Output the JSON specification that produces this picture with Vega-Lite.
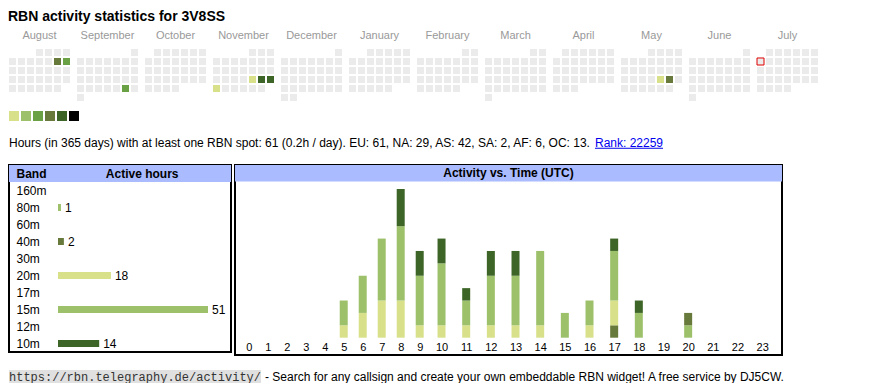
{
  "$schema": "https://vega.github.io/schema/vega-lite/v6.json",
  "background": "white",
  "padding": {"left": 8, "top": 10, "right": 0, "bottom": 0},
  "config": {"font": "Liberation Sans", "view": {"stroke": null}},
  "title": {"text": "RBN activity statistics for 3V8SS", "anchor": "start", "fontSize": 14, "fontWeight": "bold", "color": "#000", "offset": 6},
  "datasets": {
    "days": [
      {"d":"2024-08-01","h":0},{"d":"2024-08-02","h":0},{"d":"2024-08-03","h":0},{"d":"2024-08-04","h":0},{"d":"2024-08-05","h":0},{"d":"2024-08-06","h":0},{"d":"2024-08-07","h":0},{"d":"2024-08-08","h":0},{"d":"2024-08-09","h":0},{"d":"2024-08-10","h":8},{"d":"2024-08-11","h":6},{"d":"2024-08-12","h":0},{"d":"2024-08-13","h":0},{"d":"2024-08-14","h":0},{"d":"2024-08-15","h":0},{"d":"2024-08-16","h":0},{"d":"2024-08-17","h":0},{"d":"2024-08-18","h":0},{"d":"2024-08-19","h":0},{"d":"2024-08-20","h":0},{"d":"2024-08-21","h":0},{"d":"2024-08-22","h":0},{"d":"2024-08-23","h":0},{"d":"2024-08-24","h":0},{"d":"2024-08-25","h":0},{"d":"2024-08-26","h":0},{"d":"2024-08-27","h":0},{"d":"2024-08-28","h":0},{"d":"2024-08-29","h":0},{"d":"2024-08-30","h":0},{"d":"2024-08-31","h":0},
      {"d":"2024-09-01","h":0},{"d":"2024-09-02","h":0},{"d":"2024-09-03","h":0},{"d":"2024-09-04","h":0},{"d":"2024-09-05","h":0},{"d":"2024-09-06","h":0},{"d":"2024-09-07","h":0},{"d":"2024-09-08","h":0},{"d":"2024-09-09","h":0},{"d":"2024-09-10","h":0},{"d":"2024-09-11","h":0},{"d":"2024-09-12","h":0},{"d":"2024-09-13","h":0},{"d":"2024-09-14","h":0},{"d":"2024-09-15","h":0},{"d":"2024-09-16","h":0},{"d":"2024-09-17","h":0},{"d":"2024-09-18","h":0},{"d":"2024-09-19","h":0},{"d":"2024-09-20","h":0},{"d":"2024-09-21","h":0},{"d":"2024-09-22","h":0},{"d":"2024-09-23","h":0},{"d":"2024-09-24","h":0},{"d":"2024-09-25","h":0},{"d":"2024-09-26","h":0},{"d":"2024-09-27","h":0},{"d":"2024-09-28","h":6},{"d":"2024-09-29","h":0},{"d":"2024-09-30","h":0},
      {"d":"2024-10-01","h":0},{"d":"2024-10-02","h":0},{"d":"2024-10-03","h":0},{"d":"2024-10-04","h":0},{"d":"2024-10-05","h":0},{"d":"2024-10-06","h":0},{"d":"2024-10-07","h":0},{"d":"2024-10-08","h":0},{"d":"2024-10-09","h":0},{"d":"2024-10-10","h":0},{"d":"2024-10-11","h":0},{"d":"2024-10-12","h":0},{"d":"2024-10-13","h":0},{"d":"2024-10-14","h":0},{"d":"2024-10-15","h":0},{"d":"2024-10-16","h":0},{"d":"2024-10-17","h":0},{"d":"2024-10-18","h":0},{"d":"2024-10-19","h":0},{"d":"2024-10-20","h":0},{"d":"2024-10-21","h":0},{"d":"2024-10-22","h":0},{"d":"2024-10-23","h":0},{"d":"2024-10-24","h":0},{"d":"2024-10-25","h":0},{"d":"2024-10-26","h":0},{"d":"2024-10-27","h":0},{"d":"2024-10-28","h":0},{"d":"2024-10-29","h":0},{"d":"2024-10-30","h":0},{"d":"2024-10-31","h":0},
      {"d":"2024-11-01","h":0},{"d":"2024-11-02","h":0},{"d":"2024-11-03","h":0},{"d":"2024-11-04","h":0},{"d":"2024-11-05","h":0},{"d":"2024-11-06","h":0},{"d":"2024-11-07","h":0},{"d":"2024-11-08","h":0},{"d":"2024-11-09","h":0},{"d":"2024-11-10","h":0},{"d":"2024-11-11","h":0},{"d":"2024-11-12","h":0},{"d":"2024-11-13","h":0},{"d":"2024-11-14","h":0},{"d":"2024-11-15","h":0},{"d":"2024-11-16","h":0},{"d":"2024-11-17","h":0},{"d":"2024-11-18","h":0},{"d":"2024-11-19","h":0},{"d":"2024-11-20","h":0},{"d":"2024-11-21","h":0},{"d":"2024-11-22","h":2},{"d":"2024-11-23","h":13},{"d":"2024-11-24","h":14},{"d":"2024-11-25","h":1},{"d":"2024-11-26","h":0},{"d":"2024-11-27","h":0},{"d":"2024-11-28","h":0},{"d":"2024-11-29","h":0},{"d":"2024-11-30","h":0},
      {"d":"2024-12-01","h":0},{"d":"2024-12-02","h":0},{"d":"2024-12-03","h":0},{"d":"2024-12-04","h":0},{"d":"2024-12-05","h":0},{"d":"2024-12-06","h":0},{"d":"2024-12-07","h":0},{"d":"2024-12-08","h":0},{"d":"2024-12-09","h":0},{"d":"2024-12-10","h":0},{"d":"2024-12-11","h":0},{"d":"2024-12-12","h":0},{"d":"2024-12-13","h":0},{"d":"2024-12-14","h":0},{"d":"2024-12-15","h":0},{"d":"2024-12-16","h":0},{"d":"2024-12-17","h":0},{"d":"2024-12-18","h":0},{"d":"2024-12-19","h":0},{"d":"2024-12-20","h":0},{"d":"2024-12-21","h":0},{"d":"2024-12-22","h":0},{"d":"2024-12-23","h":0},{"d":"2024-12-24","h":0},{"d":"2024-12-25","h":0},{"d":"2024-12-26","h":0},{"d":"2024-12-27","h":0},{"d":"2024-12-28","h":0},{"d":"2024-12-29","h":0},{"d":"2024-12-30","h":0},{"d":"2024-12-31","h":0},
      {"d":"2025-01-01","h":0},{"d":"2025-01-02","h":0},{"d":"2025-01-03","h":0},{"d":"2025-01-04","h":0},{"d":"2025-01-05","h":0},{"d":"2025-01-06","h":0},{"d":"2025-01-07","h":0},{"d":"2025-01-08","h":0},{"d":"2025-01-09","h":0},{"d":"2025-01-10","h":0},{"d":"2025-01-11","h":0},{"d":"2025-01-12","h":0},{"d":"2025-01-13","h":0},{"d":"2025-01-14","h":0},{"d":"2025-01-15","h":0},{"d":"2025-01-16","h":0},{"d":"2025-01-17","h":0},{"d":"2025-01-18","h":0},{"d":"2025-01-19","h":0},{"d":"2025-01-20","h":0},{"d":"2025-01-21","h":0},{"d":"2025-01-22","h":0},{"d":"2025-01-23","h":0},{"d":"2025-01-24","h":0},{"d":"2025-01-25","h":0},{"d":"2025-01-26","h":0},{"d":"2025-01-27","h":0},{"d":"2025-01-28","h":0},{"d":"2025-01-29","h":0},{"d":"2025-01-30","h":0},{"d":"2025-01-31","h":0},
      {"d":"2025-02-01","h":0},{"d":"2025-02-02","h":0},{"d":"2025-02-03","h":0},{"d":"2025-02-04","h":0},{"d":"2025-02-05","h":0},{"d":"2025-02-06","h":0},{"d":"2025-02-07","h":0},{"d":"2025-02-08","h":0},{"d":"2025-02-09","h":0},{"d":"2025-02-10","h":0},{"d":"2025-02-11","h":0},{"d":"2025-02-12","h":0},{"d":"2025-02-13","h":0},{"d":"2025-02-14","h":0},{"d":"2025-02-15","h":0},{"d":"2025-02-16","h":0},{"d":"2025-02-17","h":0},{"d":"2025-02-18","h":0},{"d":"2025-02-19","h":0},{"d":"2025-02-20","h":0},{"d":"2025-02-21","h":0},{"d":"2025-02-22","h":0},{"d":"2025-02-23","h":0},{"d":"2025-02-24","h":0},{"d":"2025-02-25","h":0},{"d":"2025-02-26","h":0},{"d":"2025-02-27","h":0},{"d":"2025-02-28","h":0},
      {"d":"2025-03-01","h":0},{"d":"2025-03-02","h":0},{"d":"2025-03-03","h":0},{"d":"2025-03-04","h":0},{"d":"2025-03-05","h":0},{"d":"2025-03-06","h":0},{"d":"2025-03-07","h":0},{"d":"2025-03-08","h":0},{"d":"2025-03-09","h":0},{"d":"2025-03-10","h":0},{"d":"2025-03-11","h":0},{"d":"2025-03-12","h":0},{"d":"2025-03-13","h":0},{"d":"2025-03-14","h":0},{"d":"2025-03-15","h":0},{"d":"2025-03-16","h":0},{"d":"2025-03-17","h":0},{"d":"2025-03-18","h":0},{"d":"2025-03-19","h":0},{"d":"2025-03-20","h":0},{"d":"2025-03-21","h":0},{"d":"2025-03-22","h":0},{"d":"2025-03-23","h":0},{"d":"2025-03-24","h":0},{"d":"2025-03-25","h":0},{"d":"2025-03-26","h":0},{"d":"2025-03-27","h":0},{"d":"2025-03-28","h":0},{"d":"2025-03-29","h":0},{"d":"2025-03-30","h":0},{"d":"2025-03-31","h":0},
      {"d":"2025-04-01","h":0},{"d":"2025-04-02","h":0},{"d":"2025-04-03","h":0},{"d":"2025-04-04","h":0},{"d":"2025-04-05","h":0},{"d":"2025-04-06","h":0},{"d":"2025-04-07","h":0},{"d":"2025-04-08","h":0},{"d":"2025-04-09","h":0},{"d":"2025-04-10","h":0},{"d":"2025-04-11","h":0},{"d":"2025-04-12","h":0},{"d":"2025-04-13","h":0},{"d":"2025-04-14","h":0},{"d":"2025-04-15","h":0},{"d":"2025-04-16","h":0},{"d":"2025-04-17","h":0},{"d":"2025-04-18","h":0},{"d":"2025-04-19","h":0},{"d":"2025-04-20","h":0},{"d":"2025-04-21","h":0},{"d":"2025-04-22","h":0},{"d":"2025-04-23","h":0},{"d":"2025-04-24","h":0},{"d":"2025-04-25","h":0},{"d":"2025-04-26","h":0},{"d":"2025-04-27","h":0},{"d":"2025-04-28","h":0},{"d":"2025-04-29","h":0},{"d":"2025-04-30","h":0},
      {"d":"2025-05-01","h":0},{"d":"2025-05-02","h":0},{"d":"2025-05-03","h":0},{"d":"2025-05-04","h":0},{"d":"2025-05-05","h":0},{"d":"2025-05-06","h":0},{"d":"2025-05-07","h":0},{"d":"2025-05-08","h":0},{"d":"2025-05-09","h":0},{"d":"2025-05-10","h":0},{"d":"2025-05-11","h":0},{"d":"2025-05-12","h":0},{"d":"2025-05-13","h":0},{"d":"2025-05-14","h":0},{"d":"2025-05-15","h":0},{"d":"2025-05-16","h":0},{"d":"2025-05-17","h":0},{"d":"2025-05-18","h":0},{"d":"2025-05-19","h":0},{"d":"2025-05-20","h":0},{"d":"2025-05-21","h":0},{"d":"2025-05-22","h":0},{"d":"2025-05-23","h":2},{"d":"2025-05-24","h":9},{"d":"2025-05-25","h":0},{"d":"2025-05-26","h":0},{"d":"2025-05-27","h":0},{"d":"2025-05-28","h":0},{"d":"2025-05-29","h":0},{"d":"2025-05-30","h":0},{"d":"2025-05-31","h":0},
      {"d":"2025-06-01","h":0},{"d":"2025-06-02","h":0},{"d":"2025-06-03","h":0},{"d":"2025-06-04","h":0},{"d":"2025-06-05","h":0},{"d":"2025-06-06","h":0},{"d":"2025-06-07","h":0},{"d":"2025-06-08","h":0},{"d":"2025-06-09","h":0},{"d":"2025-06-10","h":0},{"d":"2025-06-11","h":0},{"d":"2025-06-12","h":0},{"d":"2025-06-13","h":0},{"d":"2025-06-14","h":0},{"d":"2025-06-15","h":0},{"d":"2025-06-16","h":0},{"d":"2025-06-17","h":0},{"d":"2025-06-18","h":0},{"d":"2025-06-19","h":0},{"d":"2025-06-20","h":0},{"d":"2025-06-21","h":0},{"d":"2025-06-22","h":0},{"d":"2025-06-23","h":0},{"d":"2025-06-24","h":0},{"d":"2025-06-25","h":0},{"d":"2025-06-26","h":0},{"d":"2025-06-27","h":0},{"d":"2025-06-28","h":0},{"d":"2025-06-29","h":0},{"d":"2025-06-30","h":0},
      {"d":"2025-07-01","h":0},{"d":"2025-07-02","h":0},{"d":"2025-07-03","h":0},{"d":"2025-07-04","h":0},{"d":"2025-07-05","h":0},{"d":"2025-07-06","h":0},{"d":"2025-07-07","h":0},{"d":"2025-07-08","h":0},{"d":"2025-07-09","h":0},{"d":"2025-07-10","h":0},{"d":"2025-07-11","h":0},{"d":"2025-07-12","h":0},{"d":"2025-07-13","h":0},{"d":"2025-07-14","h":0},{"d":"2025-07-15","h":0},{"d":"2025-07-16","h":0},{"d":"2025-07-17","h":0},{"d":"2025-07-18","h":0},{"d":"2025-07-19","h":0},{"d":"2025-07-20","h":0},{"d":"2025-07-21","h":0},{"d":"2025-07-22","h":0},{"d":"2025-07-23","h":0},{"d":"2025-07-24","h":0},{"d":"2025-07-25","h":0},{"d":"2025-07-26","h":0},{"d":"2025-07-27","h":0},{"d":"2025-07-28","h":0},{"d":"2025-07-29","h":0},{"d":"2025-07-30","h":0},{"d":"2025-07-31","h":0}
    ],
    "bands": [
      {"band":"160m","hours":0},{"band":"80m","hours":1},{"band":"60m","hours":0},{"band":"40m","hours":2},{"band":"30m","hours":0},
      {"band":"20m","hours":18},{"band":"17m","hours":0},{"band":"15m","hours":51},{"band":"12m","hours":0},{"band":"10m","hours":14}
    ],
    "act": [
      {"hour":5,"band":"20m","n":1},{"hour":5,"band":"15m","n":2},
      {"hour":6,"band":"20m","n":2},{"hour":6,"band":"15m","n":3},
      {"hour":7,"band":"20m","n":3},{"hour":7,"band":"15m","n":5},
      {"hour":8,"band":"20m","n":3},{"hour":8,"band":"15m","n":6},{"hour":8,"band":"10m","n":3},
      {"hour":9,"band":"20m","n":1},{"hour":9,"band":"15m","n":4},{"hour":9,"band":"10m","n":2},
      {"hour":10,"band":"20m","n":1},{"hour":10,"band":"15m","n":5},{"hour":10,"band":"10m","n":2},
      {"hour":11,"band":"20m","n":1},{"hour":11,"band":"15m","n":2},{"hour":11,"band":"10m","n":1},
      {"hour":12,"band":"20m","n":1},{"hour":12,"band":"15m","n":4},{"hour":12,"band":"10m","n":2},
      {"hour":13,"band":"20m","n":1},{"hour":13,"band":"15m","n":4},{"hour":13,"band":"10m","n":2},
      {"hour":14,"band":"20m","n":1},{"hour":14,"band":"15m","n":6},
      {"hour":15,"band":"15m","n":2},
      {"hour":16,"band":"20m","n":1},{"hour":16,"band":"15m","n":2},
      {"hour":17,"band":"40m","n":1},{"hour":17,"band":"20m","n":2},{"hour":17,"band":"15m","n":4},{"hour":17,"band":"10m","n":1},
      {"hour":18,"band":"15m","n":2},{"hour":18,"band":"10m","n":1},
      {"hour":20,"band":"80m","n":1},{"hour":20,"band":"40m","n":1}
    ]
  },
  "spacing": 10,
  "resolve": {"scale": {"fill": "independent", "color": "independent"}},
  "vconcat": [
    {
      "data": {"name": "days"},
      "transform": [
        {"calculate": "toDate(datum.d)", "as": "t"},
        {"calculate": "(utcday(datum.t) + 6) % 7", "as": "col"},
        {"calculate": "utcdate(datum.t)", "as": "dom"},
        {"calculate": "floor((datum.dom - 1 + ((datum.col - datum.dom + 1) % 7 + 7) % 7) / 7)", "as": "row"},
        {"calculate": "utcFormat(datum.t, '%B')", "as": "mname"}
      ],
      "facet": {
        "column": {
          "field": "mname", "type": "nominal",
          "sort": ["August","September","October","November","December","January","February","March","April","May","June","July"],
          "header": {"title": null, "labelFontSize": 11, "labelColor": "#999999", "labelPadding": 8}
        }
      },
      "bounds": "flush",
      "spacing": {"column": 7},
      "spec": {
        "width": 61, "height": 52,
        "layer": [
          {
            "mark": {"type": "rect"},
            "encoding": {
              "x": {"field": "col", "type": "ordinal", "scale": {"domain": [0,1,2,3,4,5,6], "paddingInner": 0.2222, "paddingOuter": 0}, "axis": null},
              "y": {"field": "row", "type": "ordinal", "scale": {"domain": [0,1,2,3,4,5], "paddingInner": 0.2222, "paddingOuter": 0}, "axis": null},
              "fill": {"field": "h", "type": "quantitative", "scale": {"type": "threshold", "domain": [1,3,5,7,10,15], "range": ["#ebebeb","#d9e08a","#9dc16a","#6aa145","#687a3b","#3d6527","#000000"]}, "legend": null}
            }
          },
          {
            "transform": [{"filter": "datum.d == '2025-07-07'"}],
            "mark": {"type": "rect", "fill": "#ebebeb", "stroke": "#e00000", "strokeWidth": 1},
            "encoding": {
              "x": {"field": "col", "type": "ordinal", "scale": {"domain": [0,1,2,3,4,5,6], "paddingInner": 0.2222, "paddingOuter": 0}, "axis": null},
              "y": {"field": "row", "type": "ordinal", "scale": {"domain": [0,1,2,3,4,5], "paddingInner": 0.2222, "paddingOuter": 0}, "axis": null}
            }
          }
        ]
      }
    },
    {
      "width": 70, "height": 10,
      "data": {"values": [{"level":1},{"level":2},{"level":3},{"level":4},{"level":5},{"level":6}]},
      "mark": {"type": "rect"},
      "encoding": {
        "x": {"field": "level", "type": "ordinal", "scale": {"paddingInner": 0.1667, "paddingOuter": 0}, "axis": null},
        "fill": {"field": "level", "type": "ordinal", "scale": {"domain": [1,2,3,4,5,6], "range": ["#d9e08a","#9dc16a","#6aa145","#687a3b","#3d6527","#000000"]}, "legend": null}
      }
    },
    {
      "spacing": 0,
      "hconcat": [
        {
          "width": 585, "height": 23,
          "data": {"values": [{"t": "Hours (in 365 days) with at least one RBN spot: 61 (0.2h / day). EU: 61, NA: 29, AS: 42, SA: 2, AF: 6, OC: 13."}]},
          "mark": {"type": "text", "align": "left", "baseline": "middle", "fontSize": 12, "color": "#000"},
          "encoding": {
            "text": {"field": "t"},
            "x": {"datum": 0, "type": "quantitative", "scale": {"domain": [0, 1]}, "axis": null}
          }
        },
        {
          "width": 68, "height": 23,
          "data": {"values": [{"t": "Rank: 22259"}]},
          "layer": [
            {"mark": {"type": "text", "baseline": "middle", "fontSize": 12, "color": "#0000ee"}, "encoding": {"text": {"field": "t"}}},
            {"mark": {"type": "rule", "color": "#0000ee", "strokeWidth": 1}, "encoding": {"y": {"datum": 0.25, "type": "quantitative", "scale": {"domain": [0, 1]}, "axis": null}}}
          ]
        }
      ]
    },
    {
      "spacing": 14,
      "vconcat": [
        {
          "spacing": 2,
          "hconcat": [
            {
              "width": 222, "height": 187,
              "view": {"stroke": "#000", "strokeWidth": 2},
              "resolve": {"scale": {"x": "independent"}},
              "layer": [
                {
                  "data": {"values": [{"k": 1}]},
                  "mark": {"type": "rect", "fill": "#aabbff"},
                  "encoding": {"y": {"datum": "hdr", "type": "nominal", "scale": {"domain": ["hdr","160m","80m","60m","40m","30m","20m","17m","15m","12m","10m"], "paddingInner": 0, "paddingOuter": 0}}}
                },
                {
                  "data": {"values": [{"k": 1}]},
                  "mark": {"type": "text", "text": "Active hours", "fontWeight": "bold", "fontSize": 12, "baseline": "middle", "color": "#000"},
                  "encoding": {
                    "x": {"datum": 0.6, "type": "quantitative", "scale": {"domain": [0, 1]}, "axis": null},
                    "y": {"datum": "hdr", "type": "nominal", "scale": {"domain": ["hdr","160m","80m","60m","40m","30m","20m","17m","15m","12m","10m"], "paddingInner": 0, "paddingOuter": 0}}
                  }
                },
                {
                  "data": {"name": "bands"},
                  "mark": {"type": "bar", "height": 7},
                  "encoding": {
                    "y": {"field": "band", "type": "nominal", "scale": {"domain": ["hdr","160m","80m","60m","40m","30m","20m","17m","15m","12m","10m"], "paddingInner": 0, "paddingOuter": 0},
                      "axis": {"orient": "left", "title": null, "values": ["hdr","160m","80m","60m","40m","30m","20m","17m","15m","12m","10m"],
                        "labelExpr": "datum.value == 'hdr' ? 'Band' : datum.label",
                        "labelFontWeight": {"condition": {"test": "datum.value == 'hdr'", "value": "bold"}, "value": "normal"},
                        "labelAlign": "left", "labelBaseline": "middle", "labelPadding": -7, "ticks": false, "tickSize": 0, "domain": false, "grid": false,
                        "labelFontSize": 12, "labelColor": "#000", "zindex": 1}},
                    "x": {"field": "hours", "type": "quantitative", "scale": {"domain": [0, 51], "range": [49, 199], "nice": false}, "axis": null},
                    "color": {"field": "band", "type": "nominal", "scale": {"domain": ["160m","80m","60m","40m","30m","20m","17m","15m","12m","10m"], "range": ["#cccccc","#9dc16a","#cccccc","#687a3b","#cccccc","#d9e08a","#cccccc","#9dc16a","#cccccc","#3d6527"]}, "legend": null}
                  }
                },
                {
                  "data": {"name": "bands"},
                  "transform": [{"filter": "datum.hours > 0"}],
                  "mark": {"type": "text", "align": "left", "baseline": "middle", "dx": 4, "fontSize": 12, "color": "#000"},
                  "encoding": {
                    "y": {"field": "band", "type": "nominal", "scale": {"domain": ["hdr","160m","80m","60m","40m","30m","20m","17m","15m","12m","10m"], "paddingInner": 0, "paddingOuter": 0}},
                    "x": {"field": "hours", "type": "quantitative", "scale": {"domain": [0, 51], "range": [49, 199], "nice": false}, "axis": null},
                    "text": {"field": "hours", "type": "quantitative"}
                  }
                }
              ]
            },
            {
              "width": 547, "height": 190,
              "view": {"stroke": "#000", "strokeWidth": 2},
              "resolve": {"scale": {"y": "independent"}},
              "layer": [
                {
                  "data": {"values": [{"k": 1}]},
                  "mark": {"type": "rect", "fill": "#aabbff"},
                  "encoding": {
                    "y": {"datum": 0, "type": "quantitative", "scale": {"domain": [0, 1], "range": [0, 16.5]}, "axis": null},
                    "y2": {"datum": 1}
                  }
                },
                {
                  "data": {"values": [{"k": 1}]},
                  "mark": {"type": "text", "text": "Activity vs. Time (UTC)", "fontWeight": "bold", "fontSize": 12, "baseline": "middle", "color": "#000"},
                  "encoding": {
                    "y": {"datum": 0.5, "type": "quantitative", "scale": {"domain": [0, 1], "range": [0, 16.5]}, "axis": null}
                  }
                },
                {
                  "data": {"name": "act"},
                  "mark": {"type": "bar", "width": 8, "orient": "vertical"},
                  "encoding": {
                    "x": {"field": "hour", "type": "quantitative", "scale": {"domain": [-0.5, 9.5, 23.5], "range": [0, 194.2, 545], "nice": false, "zero": false},
                      "axis": {"orient": "bottom", "values": [0,1,2,3,4,5,6,7,8,9,10,11,12,13,14,15,16,17,18,19,20,21,22,23], "title": null,
                        "ticks": false, "tickSize": 0, "domain": false, "grid": false, "labelFontSize": 11, "labelColor": "#000",
                        "labelBaseline": "middle", "labelPadding": 0, "offset": -8, "labelFlush": false, "labelOverlap": false, "zindex": 1}},
                    "y": {"field": "n", "type": "quantitative", "stack": "zero", "scale": {"domain": [0, 12], "range": [172.7, 24], "nice": false}, "axis": null},
                    "color": {"field": "band", "type": "nominal", "scale": {"domain": ["160m","80m","60m","40m","30m","20m","17m","15m","12m","10m"], "range": ["#cccccc","#9dc16a","#cccccc","#687a3b","#cccccc","#d9e08a","#cccccc","#9dc16a","#cccccc","#3d6527"]}, "legend": null},
                    "order": {"field": "band", "sort": "descending"}
                  }
                }
              ]
            }
          ]
        },
        {
          "spacing": 3,
          "hconcat": [
            {
              "width": 252, "height": 13,
              "data": {"values": [{"t": "https://rbn.telegraphy.de/activity/"}]},
              "layer": [
                {"mark": {"type": "rect", "fill": "#e0e0e0"}, "encoding": {}},
                {"mark": {"type": "text", "font": "Liberation Mono", "fontSize": 12, "color": "#333333", "baseline": "middle"}, "encoding": {"text": {"field": "t"}}}
              ]
            },
            {
              "width": 525, "height": 13,
              "data": {"values": [{"t": "- Search for any callsign and create your own embeddable RBN widget! A free service by DJ5CW."}]},
              "mark": {"type": "text", "align": "left", "baseline": "middle", "fontSize": 12, "color": "#000"},
              "encoding": {
                "text": {"field": "t"},
                "x": {"datum": 0, "type": "quantitative", "scale": {"domain": [0, 1]}, "axis": null}
              }
            }
          ]
        }
      ]
    }
  ]
}
